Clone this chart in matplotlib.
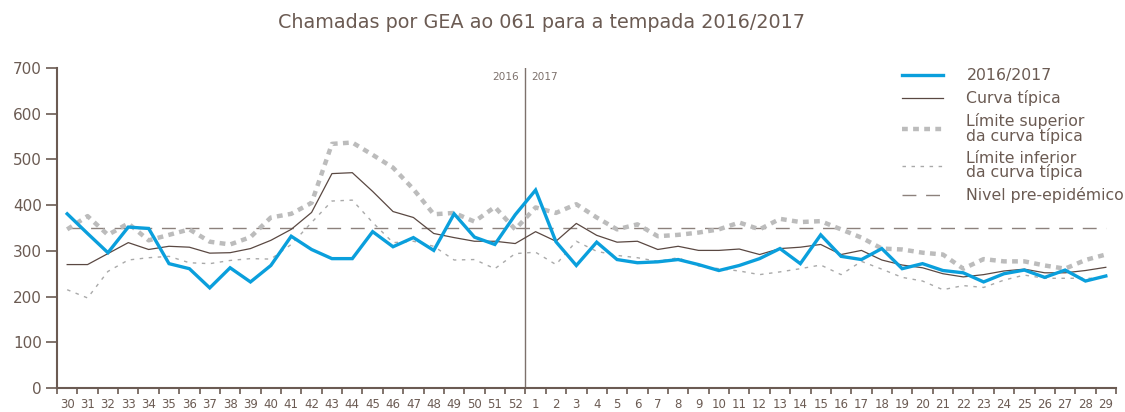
import numpy as np
import matplotlib
matplotlib.use("Agg")
import matplotlib.pyplot as plt

# semanas da tempada: 30..52 de 2016 e 1..29 de 2017
weeks = [str(w) for w in list(range(30, 53)) + list(range(1, 30))]

calls_2016_2017 = [381, 338, 296, 352, 349, 272, 261, 219, 263, 232, 268, 332,
                   303, 283, 283, 342, 309, 329, 301, 381, 330, 314, 379,
                   433, 320, 268, 319, 281, 274, 276, 281, 270, 257, 268, 283,
                   305, 272, 335, 288, 281, 305, 261, 272, 257, 252, 232, 250,
                   258, 242, 258, 234, 245]

typical = [270, 270, 294, 318, 303, 310, 308, 295, 296, 305, 323, 347,
           384, 469, 471, 430, 386, 373, 338, 329, 321, 321, 316,
           342, 321, 360, 334, 319, 321, 303, 310, 301, 301, 304, 292,
           305, 308, 314, 292, 301, 280, 269, 263, 250, 243, 248, 256,
           260, 252, 252, 257, 264]

upper = [347, 376, 335, 360, 323, 335, 347, 320, 314, 330, 373, 381,
         405, 534, 537, 510, 482, 435, 380, 383, 364, 396, 347,
         395, 383, 402, 373, 347, 358, 332, 335, 340, 347, 362, 347,
         370, 363, 365, 347, 329, 305, 303, 296, 292, 261, 282, 277,
         277, 268, 261, 280, 292]

lower = [215, 197, 255, 280, 285, 288, 274, 272, 279, 283, 282, 314,
         362, 409, 411, 362, 318, 321, 310, 280, 281, 261, 294,
         297, 270, 321, 299, 290, 285, 277, 285, 267, 261, 256, 248,
         254, 261, 269, 248, 277, 260, 242, 234, 215, 224, 220, 236,
         247, 240, 240, 240, 240]

pre_epidemic = 349

brown = "#6b5b53"
x = np.arange(len(weeks))

plt.rcParams["font.family"] = ["DejaVu Sans"]
fig = plt.figure(figsize=(11.25, 4.12), dpi=100)
ax = fig.add_axes([57 / 1125, 1 - 388 / 412, (1116 - 57) / 1125, (388 - 68) / 412])

ax.plot(x, [pre_epidemic] * len(x), color="#8c817c", lw=1.0, dashes=(10, 7),
        label="Nivel pre-epidémico", zorder=1)
ax.plot(x, lower, color="#a9a9a9", lw=1.0, dashes=(2.5, 4),
        label="Límite inferior\nda curva típica", zorder=2)
ax.plot(x, upper, color="#bcbcbc", lw=3.2, dashes=(1.3, 1.2),
        label="Límite superior\nda curva típica", zorder=3)
ax.plot(x, typical, color="#5a4842", lw=0.9, label="Curva típica", zorder=4)
ax.plot(x, calls_2016_2017, color="#0a9fdc", lw=2.4, label="2016/2017",
        zorder=5, solid_joinstyle="miter")

# separacion entre 2016 e 2017
ax.axvline(22.5, color="#7d716c", lw=1.0, zorder=0)
ax.text(22.2, 680, "2016", ha="right", va="center", fontsize=7.6, color="#7d716c")
ax.text(22.8, 680, "2017", ha="left", va="center", fontsize=7.6, color="#7d716c")

ax.set_xlim(-0.5, len(x) - 0.5)
ax.set_ylim(0, 700)
ax.set_yticks(range(0, 701, 100))
ax.set_xticks(np.arange(len(x) + 1) - 0.5)
ax.set_xticklabels([])
ax.set_xticks(x, minor=True)
ax.set_xticklabels(weeks, minor=True)
ax.tick_params(axis="x", which="major", length=4, width=1.2, color=brown)
ax.tick_params(axis="x", which="minor", length=0, pad=7, labelsize=8.5,
               labelcolor=brown)
ax.tick_params(axis="y", length=8, width=1.2, color=brown, labelsize=11,
               labelcolor=brown, pad=3)

for side in ["top", "right"]:
    ax.spines[side].set_visible(False)
for side in ["left", "bottom"]:
    ax.spines[side].set_color(brown)
    ax.spines[side].set_linewidth(1.5)

handles, labels = ax.get_legend_handles_labels()
leg = ax.legend(handles[::-1], labels[::-1], loc="upper left",
                bbox_to_anchor=(888 / 1125, 1 - 54 / 412),
                bbox_transform=fig.transFigure, frameon=False, fontsize=11.3,
                labelcolor=brown, handlelength=2.6, handletextpad=1.5,
                labelspacing=0.45)
for t in leg.get_texts():
    t.set_linespacing(0.88)

fig.text(0.481, 1 - 22 / 412, "Chamadas por GEA ao 061 para a tempada 2016/2017",
         ha="center", va="center", fontsize=13.8, color=brown)

fig.savefig("out.png", dpi=100)
